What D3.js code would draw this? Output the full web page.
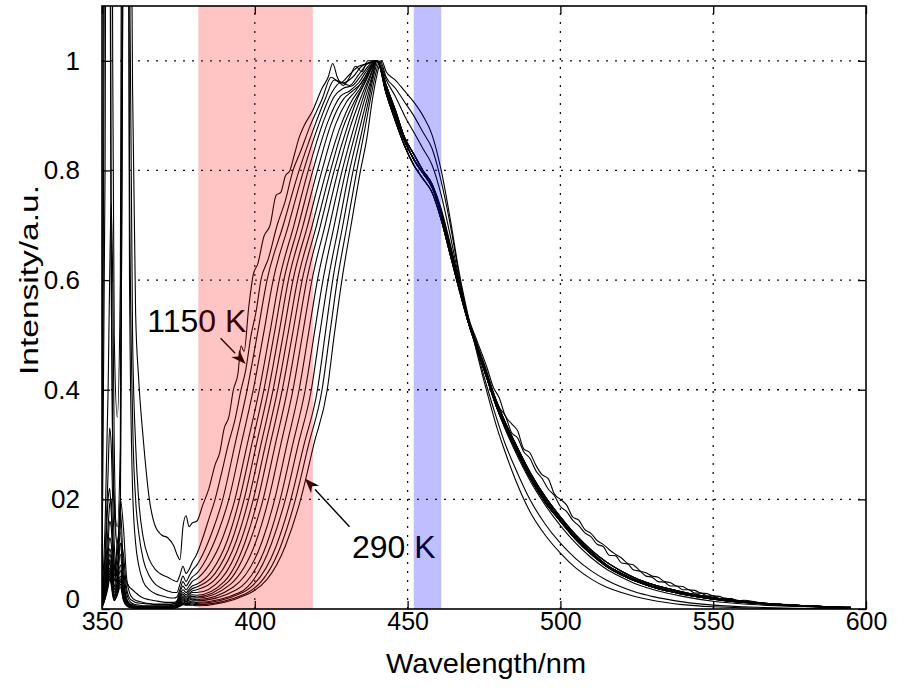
<!DOCTYPE html>
<html><head><meta charset="utf-8">
<script src="https://cdn.jsdelivr.net/npm/d3@7"></script>
<style>body{margin:0;background:#fff} svg{display:block} text{font-family:"Liberation Sans",Arial,Helvetica,sans-serif;fill:#000}</style>
</head><body><svg id="chart" width="904" height="688"></svg>
<script>
// ---------------- data ----------------
const temperatures = [1150,1100,1050,1000,950,900,850,800,750,700,650,600,550,500,450,400,350,290];
const xTicks = [350,400,450,500,550,600];
const yTicks = [0,0.2,0.4,0.6,0.8,1];
const yTickLabels = ["0","02","0.4","0.6","0.8","1"];
const redBand = [381.5, 419];
const blueBand = [452, 461];

// laser-line region, one row per temperature (hot -> cold)
const leftWl = [350,351,352,352.5,353,353.5,354,355,356,357,358,359,360,361,362,363.5,365.5,367.5,369.5,371.5,373.5,374.5,375.5,376.5,377.5,378.5,379.5];
const leftIntensity = [
 [0.05,0.8,3,3,2,1,0.5,0.35,0.6,2.5,3,1.8,0.95,0.54,0.42,0.31,0.2,0.15,0.135,0.13,0.115,0.1,0.09,0.15,0.17,0.15,0.157],
 [0.03,2.5,3,1.5,0.6,0.3,0.2,0.15,0.3,2,3,1.2,0.5,0.3,0.2,0.13,0.09,0.072,0.063,0.058,0.052,0.05,0.062,0.078,0.065,0.072,0.085],
 [0.02,1.5,3,2,0.7,0.3,0.18,0.12,0.2,1.4,2.4,0.8,0.35,0.2,0.14,0.09,0.06,0.045,0.038,0.033,0.03,0.03,0.045,0.06,0.05,0.06,0.07],
 [0.02,0.15,0.4,0.6,0.74,0.6,0.3,0.1,0.15,1.5,2.5,0.6,0.22,0.12,0.08,0.05,0.035,0.028,0.024,0.021,0.02,0.022,0.035,0.05,0.042,0.05,0.058],
 [0.02,0.1,0.25,0.33,0.3,0.2,0.12,0.06,0.05,0.06,0.05,0.04,0.035,0.03,0.025,0.02,0.017,0.015,0.013,0.012,0.012,0.015,0.03,0.042,0.035,0.042,0.05],
 [0.01,0.08,0.2,0.22,0.18,0.12,0.08,0.06,0.2,0.15,0.06,0.03,0.02,0.016,0.014,0.012,0.01,0.009,0.009,0.009,0.01,0.013,0.025,0.035,0.03,0.036,0.042],
 [0.01,0.06,0.15,0.19,0.2,0.14,0.08,0.05,0.12,0.1,0.04,0.02,0.015,0.012,0.011,0.01,0.009,0.008,0.008,0.008,0.009,0.012,0.022,0.03,0.026,0.032,0.037],
 [0.01,0.05,0.12,0.16,0.15,0.1,0.06,0.1,0.18,0.08,0.03,0.015,0.01,0.008,0.007,0.006,0.006,0.006,0.006,0.006,0.007,0.01,0.02,0.027,0.023,0.028,0.033],
 [0.01,0.05,0.1,0.13,0.12,0.08,0.05,0.12,0.14,0.06,0.02,0.01,0.008,0.006,0.005,0.005,0.005,0.005,0.005,0.005,0.006,0.009,0.018,0.024,0.02,0.025,0.03],
 [0.005,0.04,0.09,0.11,0.1,0.07,0.04,0.08,0.12,0.05,0.02,0.01,0.006,0.005,0.004,0.004,0.004,0.004,0.004,0.004,0.005,0.008,0.016,0.021,0.018,0.022,0.026],
 [0.005,0.04,0.08,0.1,0.09,0.06,0.035,0.06,0.1,0.04,0.015,0.008,0.005,0.004,0.004,0.003,0.003,0.003,0.003,0.003,0.004,0.007,0.014,0.019,0.016,0.02,0.023],
 [0.005,0.03,0.07,0.09,0.08,0.05,0.03,0.05,0.08,0.035,0.013,0.007,0.004,0.003,0.003,0.003,0.003,0.003,0.003,0.003,0.004,0.006,0.012,0.017,0.014,0.018,0.02],
 [0.004,0.03,0.07,0.085,0.07,0.045,0.025,0.045,0.07,0.03,0.012,0.006,0.004,0.003,0.003,0.003,0.003,0.003,0.003,0.003,0.003,0.005,0.011,0.015,0.013,0.016,0.018],
 [0.004,0.025,0.06,0.075,0.065,0.04,0.022,0.04,0.06,0.025,0.01,0.005,0.003,0.003,0.002,0.002,0.002,0.002,0.002,0.002,0.003,0.005,0.01,0.013,0.011,0.013,0.015],
 [0.003,0.025,0.055,0.07,0.06,0.035,0.02,0.035,0.055,0.022,0.009,0.004,0.003,0.002,0.002,0.002,0.002,0.002,0.002,0.002,0.003,0.004,0.008,0.011,0.01,0.011,0.013],
 [0.003,0.02,0.05,0.065,0.055,0.03,0.018,0.03,0.05,0.02,0.008,0.004,0.003,0.002,0.002,0.002,0.002,0.002,0.002,0.002,0.002,0.004,0.007,0.01,0.009,0.01,0.011],
 [0.003,0.02,0.045,0.06,0.05,0.028,0.016,0.028,0.045,0.018,0.007,0.003,0.002,0.002,0.002,0.002,0.002,0.002,0.002,0.002,0.002,0.003,0.006,0.009,0.008,0.008,0.009],
 [0.003,0.018,0.04,0.055,0.045,0.025,0.015,0.025,0.04,0.016,0.006,0.003,0.002,0.002,0.002,0.002,0.002,0.002,0.002,0.002,0.002,0.003,0.005,0.008,0.007,0.007,0.007]
];

// rising edge and peak: [wavelength, intensity] pairs, one row per temperature
const risePoints = [
 [[381,0.16],[383,0.19],[385,0.22],[387,0.263],[388.5,0.285],[390,0.33],[391.5,0.35],[393,0.4],[394.5,0.43],[395.5,0.48],[396.5,0.47],[398,0.55],[399.5,0.61],[401,0.63],[403,0.68],[405,0.7],[407,0.755],[408.5,0.76],[410,0.79],[411.5,0.8],[413,0.83],[414.5,0.86],[416,0.88],[419,0.91],[422,0.95],[424,0.97],[425.5,0.995],[427,0.97],[429,0.955],[431,0.97],[433,0.99],[435,0.98],[437,1.0],[440,1.0]],
 [[381,0.10],[383,0.13],[385,0.165],[387,0.2],[389,0.245],[391.3,0.3],[393.5,0.345],[395.5,0.4],[397,0.435],[398.8,0.5],[400.5,0.545],[402,0.6],[404.5,0.64],[407.3,0.7],[410,0.745],[412.5,0.8],[415,0.835],[418,0.88],[422,0.93],[425,0.97],[428,0.96],[431,0.975],[434,0.99],[437,0.995],[440,1.0]],
 [[381,0.08],[383,0.1],[386,0.14],[389.5,0.2],[393.5,0.3],[397.5,0.4],[400.8,0.5],[404,0.6],[409.3,0.7],[414.5,0.8],[419.5,0.88],[423,0.93],[426,0.965],[429,0.96],[432,0.97],[435,0.99],[440,1.0]],
 [[381,0.065],[384,0.09],[388,0.14],[391.5,0.2],[395.5,0.3],[399.5,0.4],[402.8,0.5],[406,0.6],[411,0.7],[416,0.8],[421,0.885],[425,0.94],[428,0.96],[431,0.955],[434,0.975],[437,0.995],[440,1.0]],
 [[381,0.055],[385,0.08],[389.5,0.13],[393.5,0.2],[397.5,0.3],[401.5,0.4],[404.8,0.5],[408,0.6],[412.8,0.7],[417.5,0.8],[422.5,0.89],[426,0.935],[429,0.95],[432,0.955],[435,0.975],[438,0.995],[440,1.0]],
 [[381,0.045],[386,0.07],[391,0.125],[395,0.2],[399,0.3],[403,0.4],[406.3,0.5],[409.5,0.6],[414.3,0.7],[419,0.8],[424,0.89],[428,0.935],[431,0.945],[434,0.96],[437,0.985],[440,1.0]],
 [[381,0.04],[387,0.065],[392.5,0.125],[396.5,0.2],[400.5,0.3],[404.5,0.4],[407.8,0.5],[411,0.6],[415.8,0.7],[420.5,0.8],[425,0.885],[429,0.93],[432,0.945],[435,0.96],[438,0.99],[440,1.0]],
 [[381,0.035],[388,0.06],[394,0.125],[398,0.2],[402,0.3],[406,0.4],[409.3,0.5],[412.5,0.6],[417.3,0.7],[422,0.8],[426.5,0.885],[430,0.925],[433,0.945],[436,0.97],[440,1.0]],
 [[381,0.03],[389,0.055],[395.5,0.125],[399.5,0.2],[403.5,0.3],[407.5,0.4],[410.8,0.5],[414,0.6],[418.8,0.7],[423.5,0.8],[428,0.88],[431.5,0.925],[434.5,0.95],[437.5,0.98],[440,1.0]],
 [[381,0.025],[390,0.05],[397,0.125],[401,0.2],[405,0.3],[409,0.4],[412.3,0.5],[415.5,0.6],[420.2,0.7],[424.8,0.8],[429,0.88],[432.5,0.925],[435.5,0.955],[438,0.985],[440,1.0]],
 [[381,0.022],[391,0.048],[398.5,0.125],[402.7,0.2],[406.7,0.3],[410.7,0.4],[413.9,0.5],[417,0.6],[421.5,0.7],[426,0.8],[430,0.875],[433.5,0.93],[436.5,0.965],[440,1.0]],
 [[381,0.02],[392,0.045],[400.5,0.125],[404.5,0.2],[408.5,0.3],[412.5,0.4],[415.6,0.5],[418.7,0.6],[423,0.7],[427.3,0.8],[431,0.875],[434.5,0.93],[437.5,0.97],[440,1.0]],
 [[381,0.017],[393,0.04],[402.5,0.125],[406.5,0.2],[410.5,0.3],[414.5,0.4],[417.5,0.5],[420.5,0.6],[424.5,0.7],[428.6,0.8],[432,0.87],[435,0.925],[437.8,0.97],[440,1.0]],
 [[381,0.015],[394,0.035],[404,0.12],[408.3,0.2],[412.4,0.3],[416.5,0.4],[419.4,0.5],[422.3,0.6],[426,0.7],[429.8,0.8],[433,0.87],[436,0.93],[438.3,0.97],[440,1.0]],
 [[381,0.012],[395,0.03],[405.5,0.12],[410,0.2],[414.2,0.3],[418.5,0.4],[421.2,0.5],[424,0.6],[427.5,0.7],[431,0.8],[434,0.87],[436.5,0.925],[438.5,0.97],[440,1.0]],
 [[381,0.01],[396,0.03],[407,0.115],[411.8,0.2],[416.1,0.3],[420.5,0.4],[423,0.5],[425.5,0.6],[428.8,0.7],[432.2,0.8],[435,0.87],[437.3,0.93],[439,0.975],[440.5,1.0]],
 [[381,0.008],[397,0.028],[408.5,0.115],[413.3,0.2],[417.6,0.3],[422,0.4],[424.5,0.5],[427,0.6],[430.2,0.7],[433.4,0.8],[436,0.875],[438,0.935],[439.5,0.975],[441,1.0]],
 [[381,0.006],[398,0.028],[410,0.115],[415,0.2],[419.3,0.3],[423.7,0.4],[426,0.5],[428.5,0.6],[431.5,0.7],[434.6,0.8],[436.7,0.86],[438.5,0.93],[440,0.975],[441.5,1.0]]
];

// falling edge and tail
const tailWl = [443,446,449,452,455,458,461,464,467,470,473,476,479,482,485,490,495,500,505,510,515,520,525,530,540,550,560,570,580,595];
const tailBulkA = [0.95,0.9,0.855,0.82,0.795,0.77,0.72,0.655,0.585,0.52,0.47,0.42,0.37,0.33,0.295,0.24,0.195,0.16,0.127,0.1,0.078,0.062,0.05,0.04,0.027,0.018,0.012,0.008,0.005,0.002];
const tailBulkB = [0.94,0.89,0.845,0.81,0.785,0.76,0.71,0.645,0.58,0.52,0.472,0.425,0.376,0.336,0.3,0.245,0.2,0.164,0.131,0.104,0.081,0.065,0.052,0.042,0.029,0.019,0.013,0.009,0.006,0.002];
const tailBulkC = [0.955,0.91,0.86,0.83,0.8,0.775,0.725,0.66,0.59,0.525,0.475,0.427,0.38,0.34,0.305,0.25,0.205,0.168,0.135,0.108,0.086,0.069,0.055,0.045,0.031,0.021,0.014,0.009,0.006,0.003];
const tailUpper3 = [0.965,0.935,0.9,0.87,0.84,0.81,0.755,0.68,0.598,0.522,0.47,0.42,0.37,0.327,0.29,0.235,0.19,0.152,0.12,0.094,0.073,0.058,0.045,0.036,0.023,0.014,0.009,0.006,0.004,0.001];
const tailUpper2 = [0.97,0.95,0.925,0.9,0.87,0.84,0.78,0.7,0.605,0.525,0.465,0.405,0.35,0.3,0.26,0.2,0.155,0.12,0.092,0.07,0.053,0.04,0.03,0.023,0.013,0.007,0.004,0.002,0.001,0];
const tailUpper1 = [0.98,0.965,0.945,0.925,0.9,0.865,0.8,0.71,0.61,0.53,0.46,0.395,0.335,0.285,0.24,0.178,0.135,0.102,0.075,0.055,0.04,0.03,0.022,0.016,0.008,0.004,0.002,0.001,0.0005,0];

const noisyWl = [443,446,449,452,455,458,461,464,467,470,473,476,
 478,480,482,484,486,488,490,492,494,496,498,500,502,504,506,508,510,512,514,516,518,520,522,524,526,528,530,532,534,536,538,540,542,544,546,548,550,552,554,556,558,560,
 565,570,575,580,585,590,595];
const tailNoisyA = [0.955,0.905,0.86,0.83,0.80,0.775,0.73,0.665,0.595,0.53,0.485,0.44,
 0.405,0.385,0.352,0.338,0.325,0.292,0.285,0.262,0.245,0.238,0.21,0.2,0.19,0.168,0.162,0.145,0.138,0.125,0.118,0.108,0.1,0.093,0.083,0.08,0.07,0.066,0.06,0.058,0.05,0.048,0.042,0.041,0.035,0.034,0.029,0.028,0.024,0.023,0.019,0.019,0.015,0.016,
 0.012,0.009,0.008,0.005,0.005,0.003,0.003];
const tailNoisyB = [0.945,0.895,0.852,0.822,0.795,0.768,0.722,0.66,0.59,0.527,0.48,0.432,
 0.395,0.368,0.352,0.322,0.312,0.287,0.275,0.252,0.238,0.219,0.207,0.187,0.178,0.162,0.152,0.139,0.132,0.118,0.114,0.098,0.097,0.084,0.082,0.071,0.069,0.06,0.058,0.05,0.049,0.042,0.042,0.035,0.035,0.029,0.029,0.024,0.024,0.019,0.02,0.016,0.016,0.013,
 0.01,0.008,0.006,0.005,0.004,0.003,0.002];

const tailOf = ["noisyA","noisyB","bulkC","bulkA","bulkB","bulkC","bulkA","bulkB","bulkC","bulkA","bulkB","bulkA","bulkC","bulkB","bulkA","upper3","upper2","upper1"];

const annotations = [
  {text:"1150 K", tx:364.8, ty:0.506, from:[388.8,0.494], to:[397.0,0.447]},
  {text:"290 K",  tx:431.8, ty:0.093, from:[431.0,0.150], to:[416.4,0.238]}
];

// ---------------- drawing ----------------
const W = 904, H = 688;
const m = {l:102, t:6, r:38, b:79};
const x = d3.scaleLinear().domain([350,600]).range([m.l, W - m.r]);
const y = d3.scaleLinear().domain([0,1.1]).range([H - m.b, m.t]);
const svg = d3.select("#chart");

const tails = {
  bulkA:{wl:tailWl, v:tailBulkA}, bulkB:{wl:tailWl, v:tailBulkB}, bulkC:{wl:tailWl, v:tailBulkC},
  upper1:{wl:tailWl, v:tailUpper1}, upper2:{wl:tailWl, v:tailUpper2}, upper3:{wl:tailWl, v:tailUpper3},
  noisyA:{wl:noisyWl, v:tailNoisyA}, noisyB:{wl:noisyWl, v:tailNoisyB}
};

svg.append("defs").append("clipPath").attr("id","plotclip")
  .append("rect").attr("x", x(350)).attr("y", y(1.1))
  .attr("width", x(600) - x(350)).attr("height", y(0) - y(1.1));

// grid
const grid = svg.append("g").attr("stroke","#111").attr("stroke-width",1.3).attr("stroke-dasharray","2,7");
grid.selectAll(".gx").data(xTicks.slice(1,-1)).join("line")
  .attr("x1", d => x(d)).attr("x2", d => x(d)).attr("y1", y(0)).attr("y2", y(1.1));
grid.selectAll(".gy").data(yTicks.slice(1)).join("line")
  .attr("y1", d => y(d)).attr("y2", d => y(d)).attr("x1", x(350)).attr("x2", x(600));

// spectra
const line = d3.line().x(d => x(d[0])).y(d => y(d[1])).curve(d3.curveMonotoneX);
const series = temperatures.map((t, i) => {
  const pts = leftWl.map((w, j) => [w, leftIntensity[i][j]]).concat(risePoints[i]);
  const tl = tails[tailOf[i]];
  tl.wl.forEach((w, j) => pts.push([w, tl.v[j]]));
  return {t, pts};
});
svg.append("g").attr("clip-path","url(#plotclip)")
  .selectAll("path").data(series).join("path")
  .attr("d", d => line(d.pts)).attr("fill","none")
  .attr("stroke","#000").attr("stroke-width",1.1).attr("stroke-linejoin","round");

// annotations
const ann = svg.append("g");
annotations.forEach(a => {
  ann.append("text").attr("x", x(a.tx)).attr("y", y(a.ty)).attr("font-size", 32).text(a.text);
  const x1 = x(a.from[0]), y1 = y(a.from[1]), x2 = x(a.to[0]), y2 = y(a.to[1]);
  const ang = Math.atan2(y2 - y1, x2 - x1), L = 15, Wd = 5.5;
  const bx = x2 - L * Math.cos(ang), by = y2 - L * Math.sin(ang);
  ann.append("line").attr("x1", x1).attr("y1", y1).attr("x2", bx).attr("y2", by)
    .attr("stroke","#000").attr("stroke-width",1.4);
  const p = [[x2, y2],
    [bx + Wd * Math.sin(ang), by - Wd * Math.cos(ang)],
    [x2 - 0.7 * L * Math.cos(ang), y2 - 0.7 * L * Math.sin(ang)],
    [bx - Wd * Math.sin(ang), by + Wd * Math.cos(ang)]];
  ann.append("path").attr("d", "M" + p.map(q => q.join(",")).join("L") + "Z").attr("fill","#000");
});

// shaded bands (drawn over the curves, translucent)
svg.append("rect").attr("x", x(redBand[0])).attr("width", x(redBand[1]) - x(redBand[0]))
  .attr("y", y(1.1)).attr("height", y(0) - y(1.1)).attr("fill","#ff0000").attr("fill-opacity",0.23);
svg.append("rect").attr("x", x(blueBand[0])).attr("width", x(blueBand[1]) - x(blueBand[0]))
  .attr("y", y(1.1)).attr("height", y(0) - y(1.1)).attr("fill","#0000ff").attr("fill-opacity",0.25);

// axes box with inward ticks
const tickLen = 8;
const axB = svg.append("g").attr("transform", `translate(0,${y(0)})`)
  .call(d3.axisBottom(x).tickValues(xTicks).tickSizeInner(-tickLen).tickSizeOuter(0).tickPadding(3).tickFormat(d3.format("d")));
const axT = svg.append("g").attr("transform", `translate(0,${y(1.1)})`)
  .call(d3.axisTop(x).tickValues(xTicks).tickSizeInner(-tickLen).tickSizeOuter(0).tickFormat(""));
const axL = svg.append("g").attr("transform", `translate(${x(350)},0)`)
  .call(d3.axisLeft(y).tickValues(yTicks).tickSizeInner(-tickLen).tickSizeOuter(0).tickPadding(22)
    .tickFormat((d, i) => yTickLabels[i]));
const axR = svg.append("g").attr("transform", `translate(${x(600)},0)`)
  .call(d3.axisRight(y).tickValues(yTicks).tickSizeInner(-tickLen).tickSizeOuter(0).tickFormat(""));
[axB, axT, axL, axR].forEach(g => {
  g.select(".domain").remove();
  g.selectAll(".tick line").attr("stroke","#000").attr("stroke-width",1.3);
  g.selectAll("text").attr("font-family",'"Liberation Sans",Arial,sans-serif').attr("fill","#000");
});
axB.selectAll("text").attr("font-size",25).attr("dy","0.71em");
axL.selectAll("text").attr("font-size",26);
axL.selectAll(".tick text").filter(d => d === 0).attr("dy","-0.05em");
svg.append("rect").attr("x", x(350)).attr("y", y(1.1)).attr("width", x(600) - x(350)).attr("height", y(0) - y(1.1))
  .attr("fill","none").attr("stroke","#000").attr("stroke-width",1.6);

// axis titles
svg.append("text").attr("x", 486).attr("y", 673).attr("text-anchor","middle")
  .attr("font-size",28).attr("textLength",200).attr("lengthAdjust","spacingAndGlyphs").text("Wavelength/nm");
svg.append("text").attr("transform", `translate(38,280) rotate(-90)`)
  .attr("text-anchor","middle").attr("font-size",26).attr("textLength",190).attr("lengthAdjust","spacingAndGlyphs").text("Intensity/a.u.");
</script></body></html>
